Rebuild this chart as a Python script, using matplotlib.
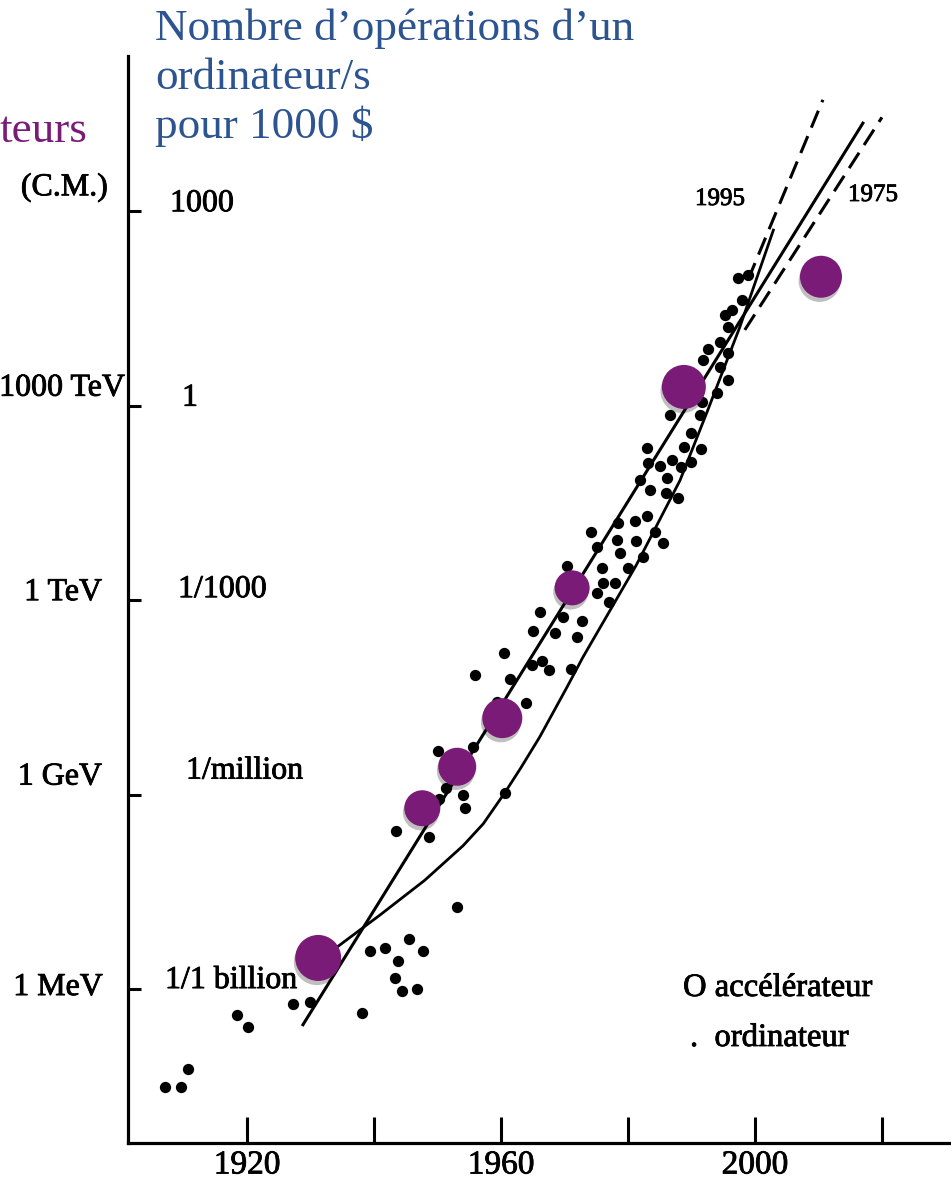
"""
Loi de Moore vs accélérateurs — reproduction du graphique scanné
"""
import matplotlib
matplotlib.use("Agg")
import matplotlib.pyplot as plt
import matplotlib.patheffects as pe
from matplotlib.ticker import NullLocator
import numpy as np

PURPLE = "#7a1b78"
BLUE   = "#2c5490"
INK    = "#000000"

plt.rcParams["font.family"] = ["Liberation Serif", "DejaVu Serif"]

# ordinateurs : année, log10(opérations/s pour 1000 $)
comp_year = [1907.1, 1909.6, 1910.7, 1918.4, 1920.1, 1927.2, 1929.9, 1938.1, 1939.4,
             1941.7, 1945.5, 1947.7, 1943.8, 1943.3, 1944.4, 1946.8, 1953.1,
             1943.5, 1948.7, 1950.2, 1951.3, 1954.0, 1954.3, 1960.6, 1950.1, 1955.6,
             1959.4, 1963.9, 1955.9, 1961.4, 1960.5, 1964.9, 1966.5, 1967.6, 1971.0,
             1965.0, 1968.5, 1972.0, 1966.1, 1969.8, 1972.8, 1975.1, 1977.0, 1976.1,
             1978.0, 1970.4, 1975.9, 1980.0, 1975.1, 1978.7, 1982.4, 1974.2, 1978.3,
             1981.3, 1984.3, 1985.5, 1978.4, 1981.1, 1983.0, 1981.9, 1983.5, 1986.0, 1987.9,
             1983.0, 1983.2, 1985.1, 1986.9, 1986.2, 1988.4, 1989.9, 1988.8, 1991.5,
             1989.9, 1991.4, 1986.6, 1994.0,
             1991.7, 1995.8, 1994.5, 1995.8, 1991.8, 1992.6, 1994.5, 1995.8, 1995.3,
             1996.4, 1998.0, 1997.3, 1998.9]
comp_log = [-10.51, -10.51, -10.23, -9.40, -9.59, -9.23, -9.20, -9.37, -8.41,
            -8.37, -8.23, -8.41, -8.57, -8.83, -9.03, -9.00, -7.73,
            -6.56, -6.65, -6.07, -5.90, -6.01, -6.21, -5.97, -5.33, -5.27,
            -4.57, -4.59, -4.15, -4.22, -3.82, -4.00, -3.94, -4.08, -4.06,
            -3.48, -3.51, -3.57, -3.18, -3.26, -3.32, -2.89, -3.03, -2.74,
            -2.74, -2.47, -2.50, -2.50, -2.18, -2.27, -2.33, -1.95, -2.07,
            -2.09, -1.95, -2.12, -1.81, -1.78, -1.70, -1.15, -1.30, -1.35, -1.42,
            -0.65, -0.88, -0.93, -0.84, -1.12, -0.95, -0.87, -0.64, -0.67,
            -0.42, -0.14, -0.14, 0.20,
            0.06, 0.40, 0.60, 0.81, 0.71, 0.88, 0.98, 1.21, 1.40,
            1.48, 1.63, 1.97, 2.02]

# accélérateurs (gros points violets)
acc_year = [1931.2, 1947.6, 1953.1, 1960.2, 1971.2, 1988.8, 2010.4]
acc_log  = [-8.52, -6.21, -5.57, -4.82, -2.81, 0.29, 1.99]
acc_radius_px = [23, 18, 19, 20, 17.5, 22, 21]

# droite de tendance
trend_year = [1928.8, 2017.0]
trend_log  = [-9.55, 4.36]

# courbe (tracé à la main)
curve_year = [1933.1, 1940.9, 1948.0, 1954.0, 1957.2, 1960.6, 1963.1, 1966.1,
              1970.4, 1972.9, 1981.3, 1988.2, 1992.4, 1997.6, 2002.9]
curve_log  = [-8.43, -7.86, -7.32, -6.79, -6.45, -5.97, -5.59, -5.11,
              -4.34, -3.88, -2.46, -1.15, -0.11, 1.21, 2.71]

# extrapolations en tirets
dash95_year = [1998.9, 2010.7]
dash95_log  = [1.94, 4.72]
dash75_year = [1998.4, 2020.0]
dash75_log  = [1.17, 4.45]

tick_log      = [3, 0, -3, -6, -9]
ops_labels    = ["1000", "1", "1/1000", "1/million", "1/1 billion"]
energy_labels = ["(C.M.)", "1000 TeV", "1 TeV", "1 GeV", "1 MeV"]
year_ticks    = [1920, 1940, 1960, 1980, 2000, 2020]
year_labels   = ["1920", "", "1960", "", "2000", ""]
title_lines   = ["Nombre d’opérations d’un", "ordinateur/s", "pour 1000 $"]

# décalages (pixels) des étiquettes par rapport aux graduations
ops_dx    = [42, 54, 50, 58, 37]
ops_dy    = [0, 0, 3, 16, 1]
energy_dx = [-20, -3, -26, -26, -25]
energy_dy = [16, 10, 0, 10, -6]

# encre un peu épaisse, comme sur le scan
SCAN = [pe.withStroke(linewidth=0.6, foreground=INK)]

W, H = 951, 1181
fig = plt.figure(figsize=(W / 100, H / 100), dpi=100)
fig.patch.set_facecolor("white")
ax = fig.add_axes([128 / W, (H - 1143) / H, (W - 128) / W, (1143 - 56) / H])
ax.set_facecolor("none")

ax.set_yscale("log")
ax.set_xlim(1901.24, 2030.88)
ax.set_ylim(10 ** -11.375, 10 ** 5.396)

for s in ["top", "right"]:
    ax.spines[s].set_visible(False)
for s in ["left", "bottom"]:
    ax.spines[s].set_linewidth(2.3)
    ax.spines[s].set_color(INK)

ax.set_xticks(year_ticks)
ax.set_xticklabels(year_labels)
ax.tick_params(axis="x", direction="in", length=19, width=2.2, pad=5,
               labelsize=24, colors=INK)
for lab in ax.get_xticklabels():
    lab.set_path_effects(SCAN)
ax.set_yticks(10.0 ** np.array(tick_log))
ax.set_yticklabels([""] * len(tick_log))
ax.yaxis.set_minor_locator(NullLocator())
ax.tick_params(axis="y", direction="in", length=9, width=2.2)

# lignes
ax.plot(trend_year, 10.0 ** np.array(trend_log), color=INK, lw=2.2, zorder=2)
ax.plot(curve_year, 10.0 ** np.array(curve_log), color=INK, lw=2.0, zorder=2)
ax.plot(dash95_year, 10.0 ** np.array(dash95_log), color=INK, lw=2.2,
        ls=(0, (6, 3)), zorder=2)
ax.plot(dash75_year, 10.0 ** np.array(dash75_log), color=INK, lw=2.2,
        ls=(0, (6, 3)), zorder=2)

# points
ax.scatter(comp_year, 10.0 ** np.array(comp_log), s=66, color=INK,
           linewidths=0, zorder=3)
sizes = [(2 * r * 0.72) ** 2 for r in acc_radius_px]
acc = ax.scatter(acc_year, 10.0 ** np.array(acc_log), s=sizes, color=PURPLE,
                 linewidths=0, zorder=4)
acc.set_path_effects([pe.SimplePatchShadow(offset=(-1, -3), shadow_rgbFace="black",
                                           alpha=0.25), pe.Normal()])

# étiquettes des graduations
for v, lab, dx, dy in zip(tick_log, ops_labels, ops_dx, ops_dy):
    ax.annotate(lab, xy=(0, 10.0 ** v), xycoords=("axes fraction", "data"),
                xytext=(dx, dy), textcoords="offset pixels",
                ha="left", va="baseline", fontsize=23, color=INK,
                path_effects=SCAN)
for v, lab, dx, dy in zip(tick_log, energy_labels, energy_dx, energy_dy):
    ax.annotate(lab, xy=(0, 10.0 ** v), xycoords=("axes fraction", "data"),
                xytext=(dx, dy), textcoords="offset pixels",
                ha="right", va="baseline", fontsize=23, color=INK,
                annotation_clip=False, path_effects=SCAN)

# titres
for i, line in enumerate(title_lines):
    fig.text(155 / W, 1 - (40 + 49 * i) / H, line, fontsize=32.5, color=BLUE,
             ha="left", va="baseline")
fig.text(0, 1 - 142 / H, "teurs", fontsize=32.5, color=PURPLE,
         ha="left", va="baseline")

fig.text(695 / W, 1 - 205 / H, "1995", fontsize=18, color=INK, va="baseline",
         path_effects=SCAN)
fig.text(848 / W, 1 - 201 / H, "1975", fontsize=18, color=INK, va="baseline",
         path_effects=SCAN)

fig.text(683 / W, 1 - 996 / H, "O accélérateur", fontsize=23.5, color=INK,
         va="baseline", path_effects=SCAN)
fig.text(690 / W, 1 - 1046 / H, ".  ordinateur", fontsize=23.5, color=INK,
         va="baseline", path_effects=SCAN)

fig.savefig("out.png", dpi=100)
plt.close(fig)
